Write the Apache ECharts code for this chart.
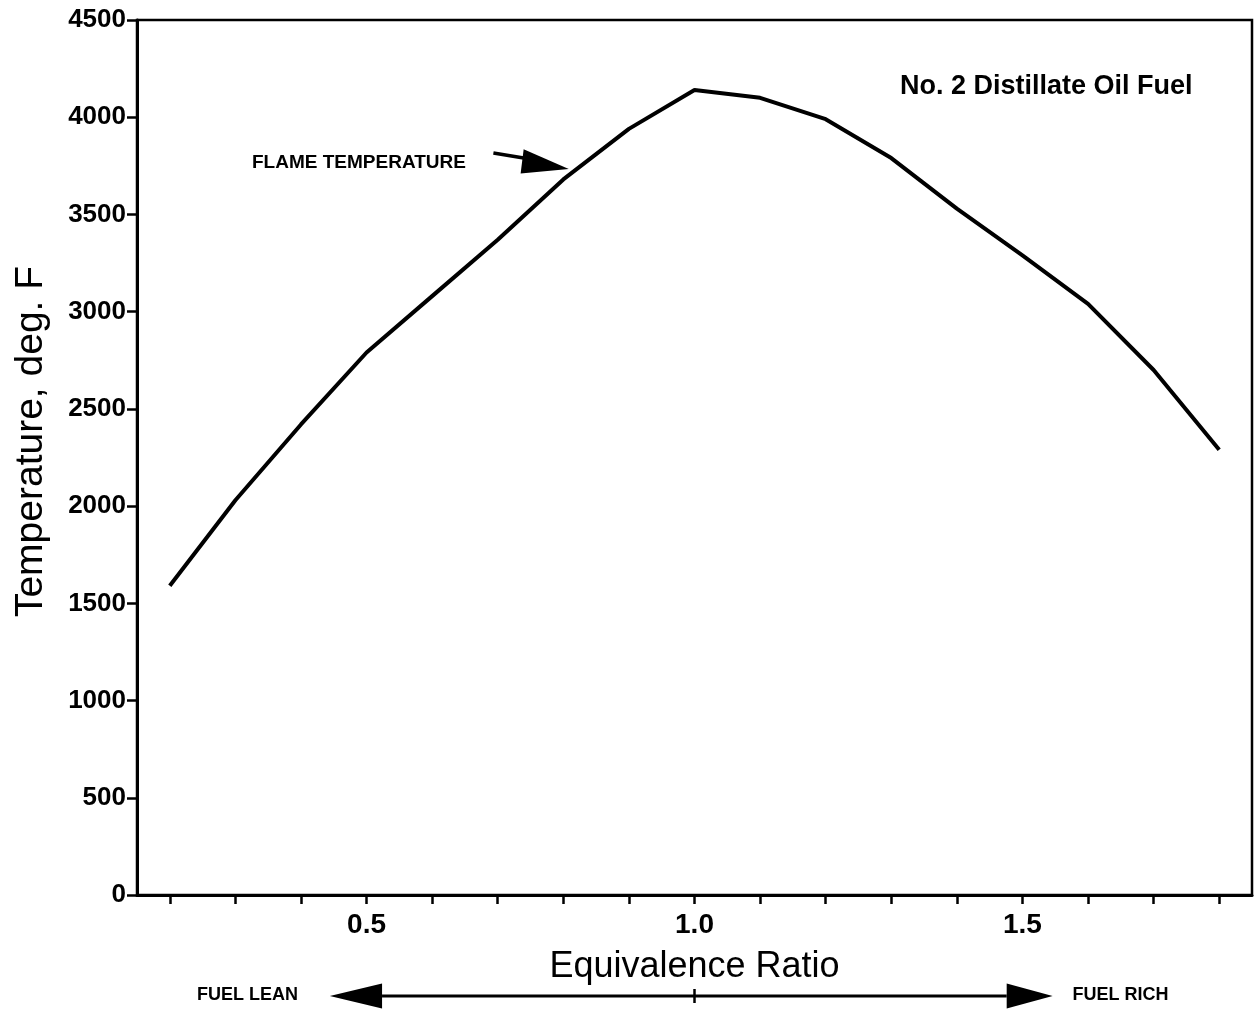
<!DOCTYPE html>
<html>
<head>
<meta charset="utf-8">
<script src="https://cdn.jsdelivr.net/npm/echarts@6/dist/echarts.min.js"></script>
<style>
html,body{margin:0;padding:0;background:#fff;}
#chart{width:1254px;height:1016px;}
</style>
</head>
<body>
<div id="chart"></div>
<script>
// Data
var equivalenceRatio = [0.2, 0.3, 0.4, 0.5, 0.6, 0.7, 0.8, 0.9, 1.0, 1.1, 1.2, 1.3, 1.4, 1.5, 1.6, 1.7, 1.8];
var flameTemperature = [1590, 2030, 2420, 2790, 3080, 3370, 3680, 3940, 4140, 4100, 3990, 3790, 3530, 3290, 3040, 2700, 2290];
var xTickValues = [0.2, 0.3, 0.4, 0.5, 0.6, 0.7, 0.8, 0.9, 1.0, 1.1, 1.2, 1.3, 1.4, 1.5, 1.6, 1.7, 1.8];
var xLabelValues = [0.5, 1.0, 1.5];

var FONT = '"Liberation Sans", Arial, sans-serif';
var chart = echarts.init(document.getElementById('chart'));

var option = {
  backgroundColor: '#fff',
  animation: false,
  grid: {
    left: 137, right: 2, top: 20, bottom: 121,
    show: true, borderColor: '#000', borderWidth: 2.5
  },
  xAxis: {
    type: 'value', min: 0.15, max: 1.85,
    name: 'Equivalence Ratio', nameLocation: 'middle', nameGap: 54,
    nameTextStyle: { color: '#000', fontSize: 36, fontFamily: FONT },
    axisLine: { show: true, onZero: false, lineStyle: { color: '#000', width: 3 } },
    axisTick: { show: true, customValues: xTickValues, length: 9, lineStyle: { color: '#000', width: 2.5 } },
    axisLabel: {
      customValues: xLabelValues, margin: 16,
      color: '#000', fontSize: 28, fontWeight: 'bold', fontFamily: FONT,
      formatter: function (v) { return v.toFixed(1); }
    },
    splitLine: { show: false }
  },
  yAxis: {
    type: 'value', min: 0, max: 4500, interval: 500,
    name: 'Temperature, deg. F', nameLocation: 'middle', nameGap: 86,
    nameTextStyle: { color: '#000', fontSize: 39, fontFamily: FONT, padding: [0, 0, 0, 32] },
    axisLine: { show: true, lineStyle: { color: '#000', width: 3 } },
    axisTick: { show: true, length: 10, lineStyle: { color: '#000', width: 2.5 } },
    axisLabel: {
      margin: 11, color: '#000', fontSize: 26, fontWeight: 'bold', fontFamily: FONT,
      formatter: function (v) { return String(v); }
    },
    splitLine: { show: false }
  },
  series: [{
    type: 'line',
    data: equivalenceRatio.map(function (x, i) { return [x, flameTemperature[i]]; }),
    symbol: 'none',
    lineStyle: { color: '#000', width: 4 },
    clip: false
  }]
};
chart.setOption(option);

// Annotations placed through the chart's own coordinate conversion
function px(x, y) { return chart.convertToPixel({ xAxisIndex: 0, yAxisIndex: 0 }, [x, y]); }

var flameShaft = [[0.6934, 3816], [0.7395, 3790]];
var flameHead = [[0.7395, 3835], [0.7349, 3710], [0.8083, 3734]];
var bottomArrow = { leftTip: 0.444, leftBase: 0.5236, mid: 1.0, rightBase: 1.476, rightTip: 1.546 };

var y0 = px(0.15, 0)[1];
var ay = y0 + 101;
var hh = 12.5;
var lt = px(bottomArrow.leftTip, 0)[0], lb = px(bottomArrow.leftBase, 0)[0];
var rb = px(bottomArrow.rightBase, 0)[0], rt = px(bottomArrow.rightTip, 0)[0];
var mx = px(bottomArrow.mid, 0)[0];

var flameTextPos = px(0.32, 3765);

chart.setOption({
  graphic: [
    { type: 'text', left: 900, top: 73,
      style: { text: 'No. 2 Distillate Oil Fuel', fill: '#000', font: 'bold 27px ' + FONT } },
    { type: 'text', left: 252, top: flameTextPos[1] - 10,
      style: { text: 'FLAME TEMPERATURE', fill: '#000', font: 'bold 19px ' + FONT } },
    { type: 'polyline', shape: { points: flameShaft.map(function (p) { return px(p[0], p[1]); }) },
      style: { stroke: '#000', lineWidth: 3.5 } },
    { type: 'polygon', shape: { points: flameHead.map(function (p) { return px(p[0], p[1]); }) },
      style: { fill: '#000' } },
    { type: 'line', shape: { x1: lb, y1: ay, x2: rb, y2: ay }, style: { stroke: '#000', lineWidth: 3 } },
    { type: 'line', shape: { x1: mx, y1: ay - 7, x2: mx, y2: ay + 7 }, style: { stroke: '#000', lineWidth: 2.5 } },
    { type: 'polygon', shape: { points: [[lt, ay], [lb, ay - hh], [lb, ay + hh]] }, style: { fill: '#000' } },
    { type: 'polygon', shape: { points: [[rt, ay], [rb, ay - hh], [rb, ay + hh]] }, style: { fill: '#000' } },
    { type: 'text', left: 197, top: ay - 10,
      style: { text: 'FUEL LEAN', fill: '#000', font: 'bold 18px ' + FONT } },
    { type: 'text', left: rt + 20, top: ay - 10,
      style: { text: 'FUEL RICH', fill: '#000', font: 'bold 18px ' + FONT } }
  ]
});
</script>
</body>
</html>
